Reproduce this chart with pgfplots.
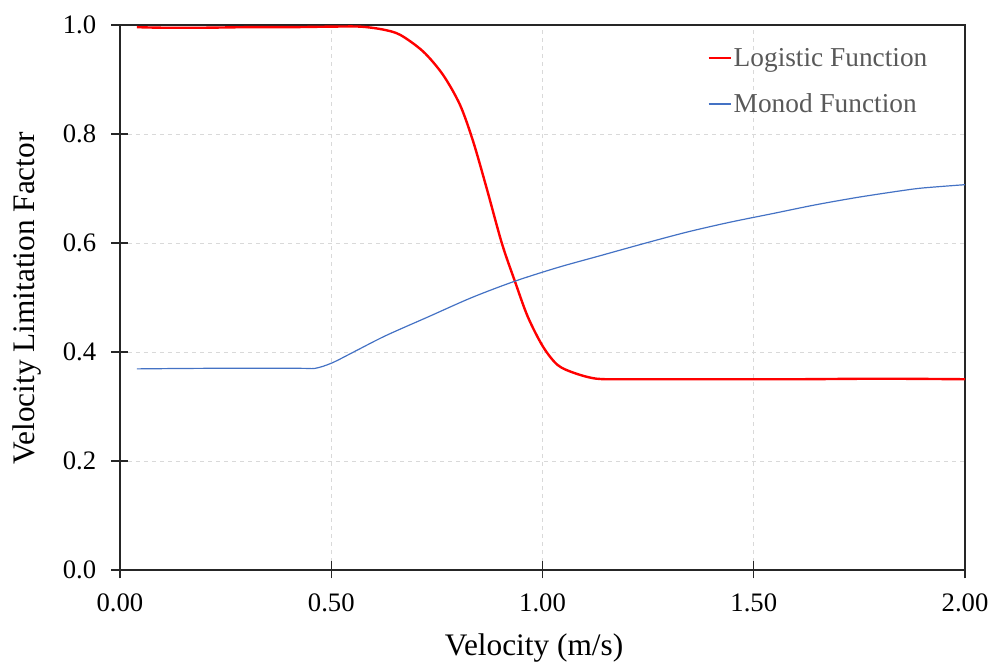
\documentclass[border=0pt]{standalone}
\usepackage{fontspec}
\setmainfont{Liberation Serif}
\usepackage{pgfplots}
\pgfplotsset{compat=1.18}
\definecolor{monodblue}{RGB}{68,114,196}
\definecolor{legtext}{RGB}{89,89,89}
\begin{document}
\begin{tikzpicture}
  \begin{axis}[
    scale only axis,
    width=633.75pt, height=408.75pt,
    xmin=0, xmax=2, ymin=0, ymax=1,
    xtick={0,0.5,1,1.5,2},
    ytick={0,0.2,0.4,0.6,0.8,1.0},
    xtick pos=bottom, ytick pos=left,
    tick align=center,
    major tick length=12.75pt,
    tick style={black!85, line width=0.9pt},
    axis line style={black!85, line width=0.9pt},
    grid=major,
    major grid style={dashed, gray!30, line width=0.6pt},
    x tick label style={font=\fontsize{20pt}{24pt}\selectfont,
      /pgf/number format/.cd, fixed, fixed zerofill, precision=2, assume math mode=true},
    y tick label style={font=\fontsize{20pt}{24pt}\selectfont,
      /pgf/number format/.cd, fixed, fixed zerofill, precision=1, assume math mode=true},
    xticklabel shift=8pt,
    yticklabel shift=8pt,
    xlabel={Velocity (m/s)},
    ylabel={Velocity Limitation Factor},
    label style={font=\fontsize{23.5pt}{28pt}\selectfont},
    xlabel style={at={(axis description cs:0.49,0)}, anchor=base, yshift=-64pt},
    ylabel style={at={(axis description cs:0,0.498)}, anchor=base, rotate=0, yshift=63.75pt},
    legend style={at={(0.690,0.968)}, anchor=north west, draw=none, fill=none,
      font=\fontsize{20.5pt}{24pt}\selectfont, text=legtext,
      row sep=15pt, nodes={inner xsep=1pt}},
    legend cell align=left,
    legend image code/.code={\draw[#1] (0pt,0pt) -- (17pt,0pt);},
  ]
    \addplot[red, line width=1.8pt, smooth, tension=0.5] coordinates {
      (0.04,0.996) (0.10,0.995) (0.20,0.995) (0.30,0.996) (0.40,0.996)
      (0.50,0.997) (0.568,0.997) (0.62,0.992) (0.663,0.982) (0.718,0.951)
      (0.765,0.908) (0.805,0.853) (0.836,0.786) (0.868,0.700) (0.904,0.599)
      (0.935,0.529) (0.965,0.465) (1.001,0.410) (1.036,0.376) (1.077,0.361)
      (1.128,0.351) (1.20,0.350) (1.40,0.350) (1.60,0.350) (1.80,0.351) (2.0,0.350)
    };
    \addplot[monodblue, line width=0.9pt, smooth, tension=0.5] coordinates {
      (0.04,0.369) (0.20,0.370) (0.426,0.370) (0.462,0.370) (0.502,0.380)
      (0.558,0.402) (0.629,0.430) (0.731,0.465) (0.833,0.500) (0.935,0.530)
      (1.036,0.555) (1.138,0.577) (1.240,0.599) (1.342,0.620) (1.443,0.638)
      (1.545,0.654) (1.646,0.670) (1.748,0.684) (1.850,0.696) (1.901,0.701)
      (2.0,0.707)
    };
    \legend{Logistic Function, Monod Function}
  \end{axis}
  \pgfresetboundingbox
  \path (current axis.south west) +(-90pt,-69.75pt)
        (current axis.north east) +(20.25pt,18.75pt);
\end{tikzpicture}
\end{document}
